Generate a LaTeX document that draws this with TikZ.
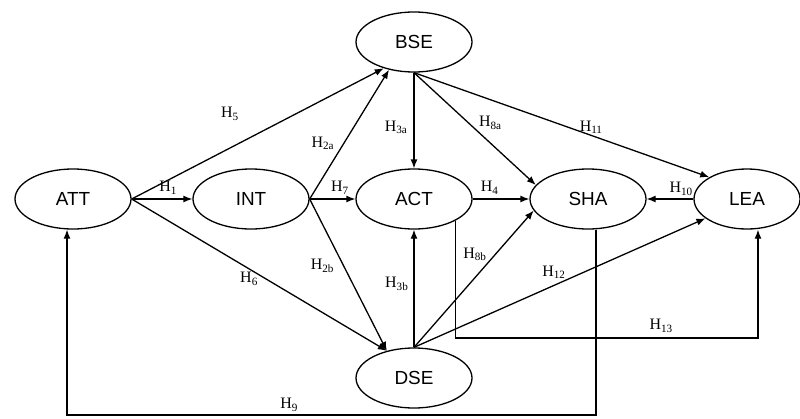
\documentclass[tikz,border=0pt]{standalone}
\usepackage{fontspec}
\setmainfont{Liberation Serif}
\setsansfont{Liberation Sans}
\usetikzlibrary{shapes.geometric,arrows.meta}
\newcommand{\hname}[1]{H\textsubscript{#1}}

\begin{document}
\begin{tikzpicture}[x=1bp, y=1bp, node distance=170bp, construct/.style={ellipse, draw, line width=1.3bp, minimum width=116bp, minimum height=60bp, inner sep=0pt, font=\sffamily\fontsize{19}{22}\selectfont}, link/.style={-{Latex[length=9bp,width=7bp]}, line width=1.3bp}, hlabel/.style={font=\fontsize{16}{18}\selectfont, inner sep=1bp}]

    \useasboundingbox (0,0) rectangle (800,418);

    \node[construct] (att) at (73,219) {ATT};
    \node[construct, right of=att, node distance=178bp] (int) {INT};
    \node[construct, right of=int, node distance=163bp] (act) {ACT};
    \node[construct, right of=act, node distance=174bp] (sha) {SHA};
    \node[construct, right of=sha, node distance=159bp, minimum width=106bp] (lea) {LEA};
    \node[construct, above of=act, node distance=157bp] (bse) {BSE};
    \node[construct, below of=act, node distance=179bp] (dse) {DSE};

    \coordinate (c13) at (758,80);
    \coordinate (c9a) at (596,3);
    \coordinate (c9b) at (67,3);

    \draw[link] (att.east) -- node[hlabel, above=3bp, pos=0.6] {\hname{1}} (int.west);
    \draw[link] (att.east) -- node[hlabel, above=26bp, pos=0.39] {\hname{5}} (bse.221);
    \draw[link] (att.east) -- node[hlabel, below=2bp, pos=0.46] {\hname{6}} (dse.135);
    \draw[link] (int.east) -- node[hlabel, left=8bp, pos=0.43] {\hname{2a}} (bse.228);
    \draw[link] (int.east) -- node[hlabel, above=3bp, pos=0.66] {\hname{7}} (act.west);
    \draw[link] (int.east) -- node[hlabel, left=8bp, pos=0.44] {\hname{2b}} (dse.135);
    \draw[link] (bse.south) -- node[hlabel, left=5bp, pos=0.57] {\hname{3a}} (act.north);
    \draw[link] (bse.south) -- node[hlabel, above right, pos=0.52] {\hname{8a}} (sha.165);
    \draw[link] (bse.south) -- node[hlabel, above, pos=0.6] {\hname{11}} (lea.150);
    \draw[link] (act.east) -- node[hlabel, above=3bp, pos=0.3] {\hname{4}} (sha.west);
    \draw[link] (lea.west) -- node[hlabel, above=2bp, pos=0.26] {\hname{10}} (sha.east);
    \draw[link] (dse.north) -- node[hlabel, left=4bp, pos=0.54] {\hname{3b}} (act.south);
    \draw[link] (dse.north) -- node[hlabel, above left, pos=0.62] {\hname{8b}} (sha.192);
    \draw[link] (dse.north) -- node[hlabel, above=5bp, pos=0.48] {\hname{12}} (lea.205);
    \draw[link] (act.south east) |- node[hlabel, above=4bp, pos=0.84] {\hname{13}} (c13) -- (c13 |- lea.south);
    \draw[link] (c9a |- sha.south) -- (c9a) -- node[hlabel, above=2bp, pos=0.58] {\hname{9}} (c9b) -- (c9b |- att.south);

\end{tikzpicture}
\end{document}
